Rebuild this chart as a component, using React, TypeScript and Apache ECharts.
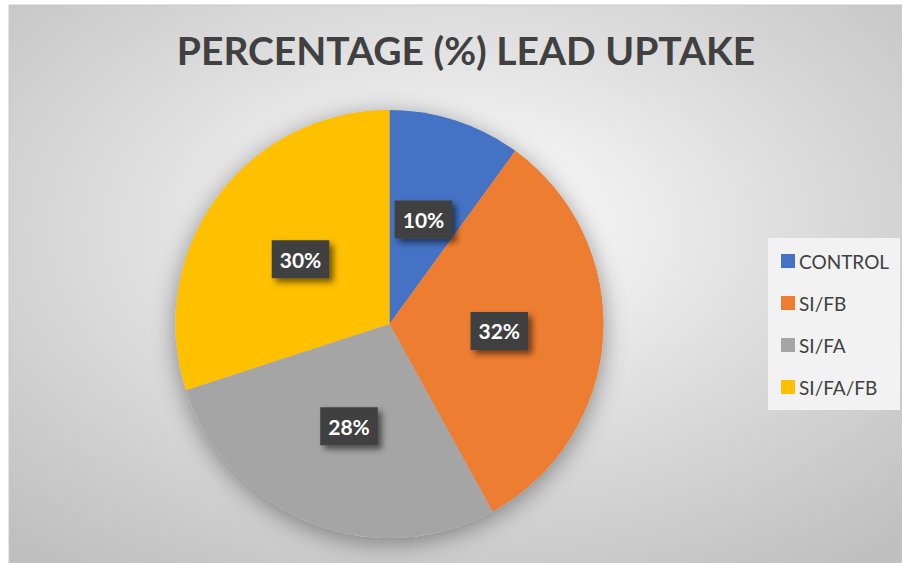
import React, { useEffect, useRef } from "react";
import * as echarts from "echarts";

const categories = ["CONTROL", "SI/FB", "SI/FA", "SI/FA/FB"];
const values = [10, 32, 28, 30];
const colors = ["#4472c4", "#ed7d31", "#a5a5a5", "#ffc000"];
const titleText = "PERCENTAGE (%) LEAD UPTAKE";

export default function App() {
  const ref = useRef<HTMLDivElement>(null);
  useEffect(() => {
    if (!ref.current) return;
    const chart = echarts.init(ref.current, null, { renderer: "svg" });
    const fontFamily = "Lato, 'Open Sans', sans-serif";
    chart.setOption({
      animation: false,
      graphic: [
        {
          type: "rect",
          z: -10,
          shape: { x: 9, y: 5, width: 893, height: 558 },
          style: {
            fill: new echarts.graphic.RadialGradient(0.5, 0.4, 0.75, [
              { offset: 0, color: "#ffffff" },
              { offset: 0.55, color: "#dadada" },
              { offset: 1, color: "#bfbfbf" },
            ]),
            stroke: "#c8c8c8",
            lineWidth: 1,
          },
        },
        {
          type: "rect",
          z: -5,
          shape: { x: 768, y: 238, width: 132, height: 172 },
          style: { fill: "#f2f2f2" },
        },
      ],
      title: {
        text: titleText,
        left: 461,
        top: 25,
        textAlign: "center",
        textStyle: {
          fontFamily,
          fontSize: 39,
          fontWeight: "bold",
          color: "#404040",
        },
      },
      legend: {
        orient: "vertical",
        left: 781,
        top: 251,
        padding: 0,
        itemWidth: 14,
        itemHeight: 14,
        itemGap: 22,
        icon: "rect",
        data: categories,
        textStyle: {
          fontFamily,
          fontSize: 19,
          color: "#404040",
          lineHeight: 20,
          padding: [0, 0, 0, -1],
        },
      },
      series: [
        {
          type: "pie",
          silent: true,
          center: [389.5, 324],
          radius: 214,
          z: 1,
          label: { show: false },
          labelLine: { show: false },
          data: [{ value: 1, name: "__shadow" }],
          itemStyle: {
            color: "#bbbbbb",
            shadowBlur: 24,
            shadowColor: "rgba(0,0,0,0.4)",
            shadowOffsetY: 5,
          },
          legendHoverLink: false,
        },
        {
          type: "pie",
          center: [389.5, 324],
          radius: 214,
          startAngle: 90,
          clockwise: true,
          z: 2,
          data: categories.map((name, i) => ({
            name,
            value: values[i],
            itemStyle: { color: colors[i] },
          })),
          label: {
            show: true,
            position: "inside",
            formatter: "{c}%",
            fontFamily,
            fontSize: 21,
            fontWeight: "bold",
            color: "#ffffff",
            lineHeight: 22,
            backgroundColor: "#404040",
            padding: [8, 8],
            shadowColor: "rgba(0,0,0,0.55)",
            shadowBlur: 6,
            shadowOffsetX: 4,
            shadowOffsetY: 4,
          },
          labelLine: { show: false },
        },
      ],
    });
    return () => chart.dispose();
  }, []);
  return (
    <div
      ref={ref}
      style={{ position: "fixed", left: 0, top: 0, width: 902, height: 563, background: "#ffffff" }}
    />
  );
}
